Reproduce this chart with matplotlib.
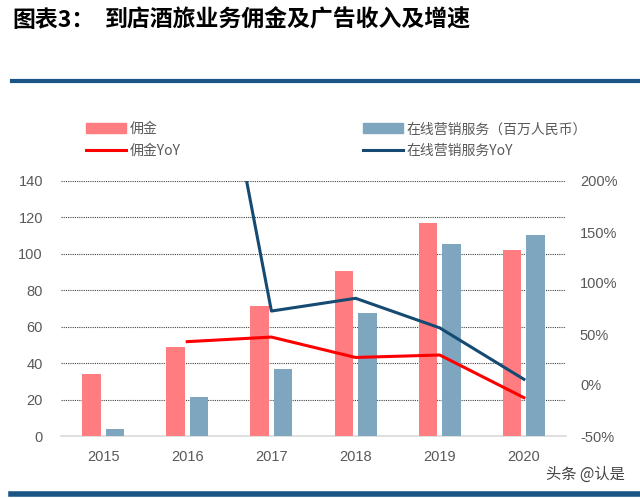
import matplotlib
matplotlib.use("Agg")
import matplotlib.pyplot as plt
from matplotlib.patches import Patch
from matplotlib.lines import Line2D
import numpy as np

plt.rcParams['font.family'] = ['Noto Sans CJK SC', 'DejaVu Sans']

years = ["2015", "2016", "2017", "2018", "2019", "2020"]
commission = [34.2, 48.9, 71.4, 90.6, 116.9, 102.1]
marketing = [3.7, 21.2, 36.6, 67.5, 105.2, 110.2]
commission_yoy = [None, 42.5, 47.0, 27.0, 29.4, -12.4]
marketing_yoy = [None, 505.0, 72.5, 85.0, 56.0, 5.6]

red_bar = "#FF7C80"
blue_bar = "#7FA6BF"
red_line = "#FF0000"
blue_line = "#154A72"
grey = "#595959"
num_font = ["Liberation Sans", "DejaVu Sans"]

fig = plt.figure(figsize=(6.4, 4.98), dpi=100)

# title and the rules
fig.text(12 / 640, 1 - 20 / 498, "图表3：", fontsize=16.5, fontweight="bold", va="center", ha="left")
fig.text(105 / 640, 1 - 20 / 498, "到店酒旅业务佣金及广告收入及增速", fontsize=16.5, fontweight="bold",
         va="center", ha="left")
fig.add_artist(Line2D([12 / 640, 1], [1 - 81 / 498] * 2, color="#1B5586", lw=3))
fig.add_artist(Line2D([11 / 640, 1], [1 - 494 / 498] * 2, color="#1B5586", lw=4))
fig.text(625 / 640, 1 - 474 / 498, "头条 @认是", fontsize=11, color="#444444", ha="right", va="center")

ax = fig.add_axes([61 / 640, 62 / 498, 505 / 640, 255 / 498])
x = np.arange(len(years))
w = 0.22
ax.bar(x - 0.14, commission, w, color=red_bar, zorder=3)
ax.bar(x + 0.14, marketing, w, color=blue_bar, zorder=3)
ax.set_xlim(-0.5, 5.5)
ax.set_ylim(0, 140)
ax.set_yticks(range(0, 141, 20))
ax.set_xticks(x)
ax.set_xticklabels(years)
for v in range(20, 141, 20):
    ax.axhline(v, color="#444444", lw=0.8, ls=(0, (1, 1)), zorder=1)
for s in ["top", "right", "left"]:
    ax.spines[s].set_visible(False)
ax.spines["bottom"].set_color("#D9D9D9")
ax.spines["bottom"].set_linewidth(1.2)
ax.tick_params(axis="both", length=0, colors=grey, labelsize=10.5)
ax.tick_params(axis="y", pad=13)
ax.tick_params(axis="x", pad=10)
for t in ax.get_xticklabels() + ax.get_yticklabels():
    t.set_fontfamily(num_font)

ax2 = ax.twinx()
ax2.set_ylim(-50, 200)
ax2.set_yticks(range(-50, 201, 50))
ax2.set_yticklabels([f"{v}%" for v in range(-50, 201, 50)])
for s in ax2.spines.values():
    s.set_visible(False)
ax2.tick_params(axis="y", length=0, colors=grey, labelsize=10.5, pad=10)
for t in ax2.get_yticklabels():
    t.set_fontfamily(num_font)
ax2.plot(x[1:], commission_yoy[1:], color=red_line, lw=2.2, zorder=4)
ax2.plot(x[1:], marketing_yoy[1:], color=blue_line, lw=2.2, zorder=4, clip_on=True)

leg_kw = dict(loc="center left", frameon=False, fontsize=10, labelcolor=grey, handlelength=2.9,
              handleheight=0.75, handletextpad=0.25, labelspacing=0.55, borderpad=0, borderaxespad=0)
leg1 = fig.legend([Patch(color=red_bar), Line2D([], [], color=red_line, lw=2.2)],
                  ["佣金", "佣金YoY"], bbox_to_anchor=(86 / 640, 1 - 140 / 498), **leg_kw)
leg2 = fig.legend([Patch(color=blue_bar), Line2D([], [], color=blue_line, lw=2.2)],
                  ["在线营销服务（百万人民币）", "在线营销服务YoY"],
                  bbox_to_anchor=(363 / 640, 1 - 140 / 498), **leg_kw)

fig.savefig("out.png", dpi=100)
